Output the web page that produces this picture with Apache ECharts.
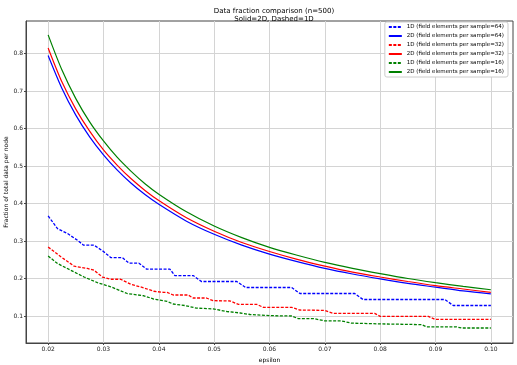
<!DOCTYPE html>
<html>
<head>
<meta charset="utf-8">
<script src="https://cdn.jsdelivr.net/npm/echarts@6/dist/echarts.min.js"></script>
<style>html,body{margin:0;padding:0;background:#fff;}#c{width:517px;height:365px;}</style>
</head>
<body>
<div id="c"></div>
<script>
// x positions for the smooth 2D curves
const eps2D = [0.02,0.0225,0.025,0.0275,0.03,0.0325,0.035,0.0375,0.04,0.045,0.05,0.055,0.06,0.065,0.07,0.075,0.08,0.085,0.09,0.095,0.1];
const d2_64 = [0.795,0.707,0.636,0.578,0.530,0.489,0.454,0.424,0.398,0.353,0.318,0.289,0.265,0.245,0.227,0.212,0.199,0.187,0.177,0.167,0.159];
const d2_32 = [0.815,0.724,0.652,0.593,0.543,0.502,0.466,0.435,0.408,0.362,0.326,0.296,0.272,0.251,0.233,0.217,0.204,0.192,0.181,0.172,0.163];
const d2_16 = [0.850,0.756,0.680,0.618,0.567,0.523,0.486,0.453,0.425,0.378,0.340,0.309,0.283,0.262,0.243,0.227,0.213,0.200,0.189,0.179,0.170];
// 1D step curves as [epsilon, fraction]
const d1_64 = [[0.0200,0.367],[0.0217,0.333],[0.0235,0.320],[0.0253,0.302],[0.0264,0.289],[0.0283,0.289],[0.0301,0.271],[0.0313,0.256],[0.0334,0.256],[0.0346,0.241],[0.0364,0.241],[0.0378,0.225],[0.0420,0.225],[0.0429,0.208],[0.0462,0.208],[0.0477,0.192],[0.0541,0.192],[0.0557,0.176],[0.0640,0.176],[0.0655,0.160],[0.0754,0.160],[0.0769,0.144],[0.0917,0.144],[0.0932,0.128],[0.1000,0.128]];
const d1_32 = [[0.0200,0.284],[0.0223,0.258],[0.0247,0.233],[0.0271,0.227],[0.0283,0.222],[0.0298,0.204],[0.0313,0.198],[0.0331,0.198],[0.0349,0.185],[0.0373,0.175],[0.0391,0.166],[0.0409,0.163],[0.0415,0.163],[0.0426,0.156],[0.0453,0.156],[0.0462,0.148],[0.0486,0.148],[0.0498,0.141],[0.0529,0.140],[0.0544,0.131],[0.0577,0.131],[0.0589,0.123],[0.0640,0.123],[0.0655,0.116],[0.0700,0.115],[0.0715,0.107],[0.0790,0.107],[0.0800,0.099],[0.0887,0.099],[0.0899,0.091],[0.1000,0.091]];
const d1_16 = [[0.0200,0.260],[0.0217,0.240],[0.0241,0.222],[0.0265,0.204],[0.0289,0.189],[0.0313,0.178],[0.0343,0.160],[0.0373,0.154],[0.0391,0.145],[0.0415,0.139],[0.0426,0.132],[0.0447,0.128],[0.0468,0.121],[0.0498,0.119],[0.0523,0.112],[0.0547,0.108],[0.0565,0.104],[0.0601,0.101],[0.0640,0.100],[0.0652,0.093],[0.0680,0.093],[0.0700,0.087],[0.0730,0.087],[0.0748,0.081],[0.0800,0.079],[0.0875,0.077],[0.0884,0.071],[0.0938,0.071],[0.0947,0.068],[0.1000,0.068]];
const xTicks = [0.02,0.03,0.04,0.05,0.06,0.07,0.08,0.09,0.10];
const yTicks = [0.1,0.2,0.3,0.4,0.5,0.6,0.7,0.8];
const names = ['1D (field elements per sample=64)','2D (field elements per sample=64)','1D (field elements per sample=32)','2D (field elements per sample=32)','1D (field elements per sample=16)','2D (field elements per sample=16)'];

const font = 'DejaVu Sans';
const zip = (xs, ys) => xs.map((x, i) => [x, ys[i]]);
function ser(name, data, color, dashed, smooth) {
  return {
    name: name, type: 'line', data: data, symbol: 'none', smooth: smooth ? 0.3 : false,
    showSymbol: false, animation: false, silent: true,
    lineStyle: { color: color, width: dashed ? 1.3 : 1.2, type: dashed ? [3, 1.5] : 'solid' },
    itemStyle: { color: color }
  };
}
const chart = echarts.init(document.getElementById('c'), null, { renderer: 'canvas' });
chart.setOption({
  animation: false,
  backgroundColor: '#fff',
  title: {
    text: 'Data fraction comparison (n=500)\nSolid=2D, Dashed=1D',
    left: 269, top: 2, textAlign: 'center',
    textStyle: { fontFamily: font, fontSize: 7, fontWeight: 'normal', color: '#000', lineHeight: 8 }
  },
  grid: { left: 26, right: 4, top: 21, bottom: 22, show: true, borderColor: '#444', borderWidth: 1, containLabel: false, outerBoundsMode: 'none' },
  legend: {
    orient: 'vertical', right: 9, top: 22, itemWidth: 13, itemHeight: 6, itemGap: 3,
    padding: [2, 4, 2, 3], borderColor: '#ccc', borderWidth: 1, borderRadius: 2, backgroundColor: '#fff',
    itemStyle: { opacity: 0 },
    textStyle: { fontFamily: font, fontSize: 5.5, color: '#000', lineHeight: 6 },
    data: names
  },
  xAxis: {
    type: 'value', min: 0.016, max: 0.104,
    name: 'epsilon', nameLocation: 'middle', nameGap: 14, nameMoveOverlap: false,
    nameTextStyle: { fontFamily: font, fontSize: 6, color: '#000' },
    axisLine: { show: true, lineStyle: { color: '#444', width: 1 } },
    axisTick: { show: true, length: 2, lineStyle: { color: '#444' }, customValues: xTicks },
    axisLabel: { fontFamily: font, fontSize: 6, color: '#222', margin: 3, customValues: xTicks, formatter: v => v.toFixed(2) },
    splitLine: { show: true, lineStyle: { color: '#d4d4d4', width: 1 } }
  },
  yAxis: {
    type: 'value', min: 0.028, max: 0.887,
    name: 'Fraction of total data per node', nameLocation: 'middle', nameGap: 17, nameMoveOverlap: false,
    nameTextStyle: { fontFamily: font, fontSize: 6, color: '#000' },
    axisLine: { show: true, lineStyle: { color: '#444', width: 1 } },
    axisTick: { show: true, length: 2, lineStyle: { color: '#444' }, customValues: yTicks },
    axisLabel: { fontFamily: font, fontSize: 6, color: '#222', margin: 3, customValues: yTicks, formatter: v => v.toFixed(1) },
    splitLine: { show: true, lineStyle: { color: '#d4d4d4', width: 1 } }
  },
  series: [
    ser(names[0], d1_64, '#0000ff', true, false),
    ser(names[1], zip(eps2D, d2_64), '#0000ff', false, true),
    ser(names[2], d1_32, '#ff0000', true, false),
    ser(names[3], zip(eps2D, d2_32), '#ff0000', false, true),
    ser(names[4], d1_16, '#008000', true, false),
    ser(names[5], zip(eps2D, d2_16), '#008000', false, true)
  ]
});
</script>
</body>
</html>
